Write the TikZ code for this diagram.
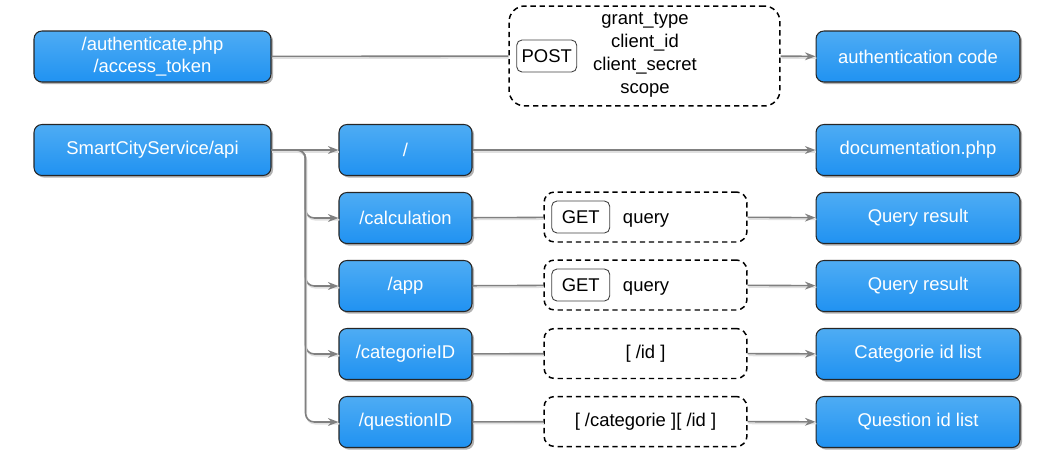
\documentclass[tikz,border=0pt]{standalone}
\usepackage{fontspec}
\setmainfont{Liberation Sans}
\usepackage{tikz}
\usetikzlibrary{positioning}
\usetikzlibrary{arrows.meta}
\usetikzlibrary{shadows}
\definecolor{boxtop}{RGB}{78,172,243}
\definecolor{boxbot}{RGB}{32,146,242}
\definecolor{conngray}{RGB}{128,128,128}
\tikzset{
node distance = 1em and 2em,
     ep/.style = {%
    shape=rectangle,
    rounded corners=4.5pt,
    draw=black!85,
    line width=0.6pt,
    top color=boxtop, bottom color=boxbot,
    text=white,
    align=center,
    inner sep=0pt,
    minimum height=1.02cm,
    drop shadow={shadow xshift=1.2pt, shadow yshift=-1.2pt, opacity=0.3, fill=black}},
  param/.style = {%
    draw=black,
    dash pattern=on 3pt off 2.2pt,
    line width=0.85pt,
    rounded corners=6pt,
    minimum width=4.06cm,
    minimum height=1.0cm},
   verb/.style = {%
    draw=black!75,
    rounded corners=3pt,
    line width=0.5pt,
    inner sep=2pt,
    minimum height=0.64cm},
   conn/.style = {%
    draw=conngray,
    line width=0.9pt,
    preaction={draw=black!12, -, line width=0.9pt,
               transform canvas={shift={(0.5pt,-1pt)}}}},
  arrow/.style = {%
    conn,
    -{Stealth[length=6pt,width=4.5pt]}},% <-- grey tip
    }

\begin{document}
\begin{tikzpicture}[x=0.02cm, y=-0.02cm, font=\fontsize{10.5}{12.6}\selectfont]
\useasboundingbox (0,0) rectangle (1054,460);
% authentication
\node[ep, minimum width=4.74cm] (auth) at (152.5,56.5) {/authenticate.php\\/access\_token};
\node[param, minimum width=5.42cm, minimum height=2.0cm, rounded corners=9pt] (post) at (644.5,56) {};
\node[verb, minimum width=1.2cm, right=0.16cm of post.west] (postverb) {POST};
\node[align=center, inner sep=0pt, font=\fontsize{10.5}{13}\selectfont] (postargs) at (645,55)
  {grant\_type\\client\_id\\client\_secret\\scope};
\node[ep, minimum width=4.08cm] (authcode) at (918,56.5) {authentication code};
% api
\node[ep, minimum width=4.74cm] (api) at (152.5,150) {SmartCityService/api};
\node[ep, minimum width=2.66cm] (root) at (405.5,150) {/};
\node[ep, minimum width=4.08cm] (doc) at (918,150) {documentation.php};

\node[ep, minimum width=2.66cm] (calc) at (405.5,218) {/calculation};
\node[param] (calcq) at (645.5,217) {};
\node[verb, minimum width=1.16cm, right=0.16cm of calcq.west] (calcverb) {GET};
\node[base right=0.25cm of calcverb, inner sep=0pt] (calcarg) {query};
\node[ep, minimum width=4.08cm] (calcres) at (918,218) {Query result};

\node[ep, minimum width=2.66cm] (app) at (405.5,286) {/app};
\node[param] (appq) at (645.5,285) {};
\node[verb, minimum width=1.16cm, right=0.16cm of appq.west] (appverb) {GET};
\node[base right=0.25cm of appverb, inner sep=0pt] (apparg) {query};
\node[ep, minimum width=4.08cm] (appres) at (918,286) {Query result};

\node[ep, minimum width=2.66cm] (catid) at (405.5,354) {/categorieID};
\node[param] (catidq) at (645.5,353.5) {[ /id ]};
\node[ep, minimum width=4.08cm] (catidres) at (918,354) {Categorie id list};

\node[ep, minimum width=2.66cm] (qid) at (405.5,422) {/questionID};
\node[param] (qidq) at (645.5,421.5) {[ /categorie ][ /id ]};
\node[ep, minimum width=4.08cm] (qidres) at (918,422) {Question id list};

% connectors
\draw[conn] (auth) -- (post);
\draw[arrow] (post) -- (authcode);
\draw[arrow] (api) -- (root);
\draw[arrow] (root) -- (doc);
\foreach \n in {calc,app,catid,qid}
  \draw[arrow, rounded corners=5pt] (api.east) -- ++(34,0) |- (\n.west);
\foreach \n in {calc,app,catid,qid} {
  \draw[conn] (\n) -- (\n q);
  \draw[arrow] (\n q) -- (\n res);
}
\end{tikzpicture}
\end{document}
